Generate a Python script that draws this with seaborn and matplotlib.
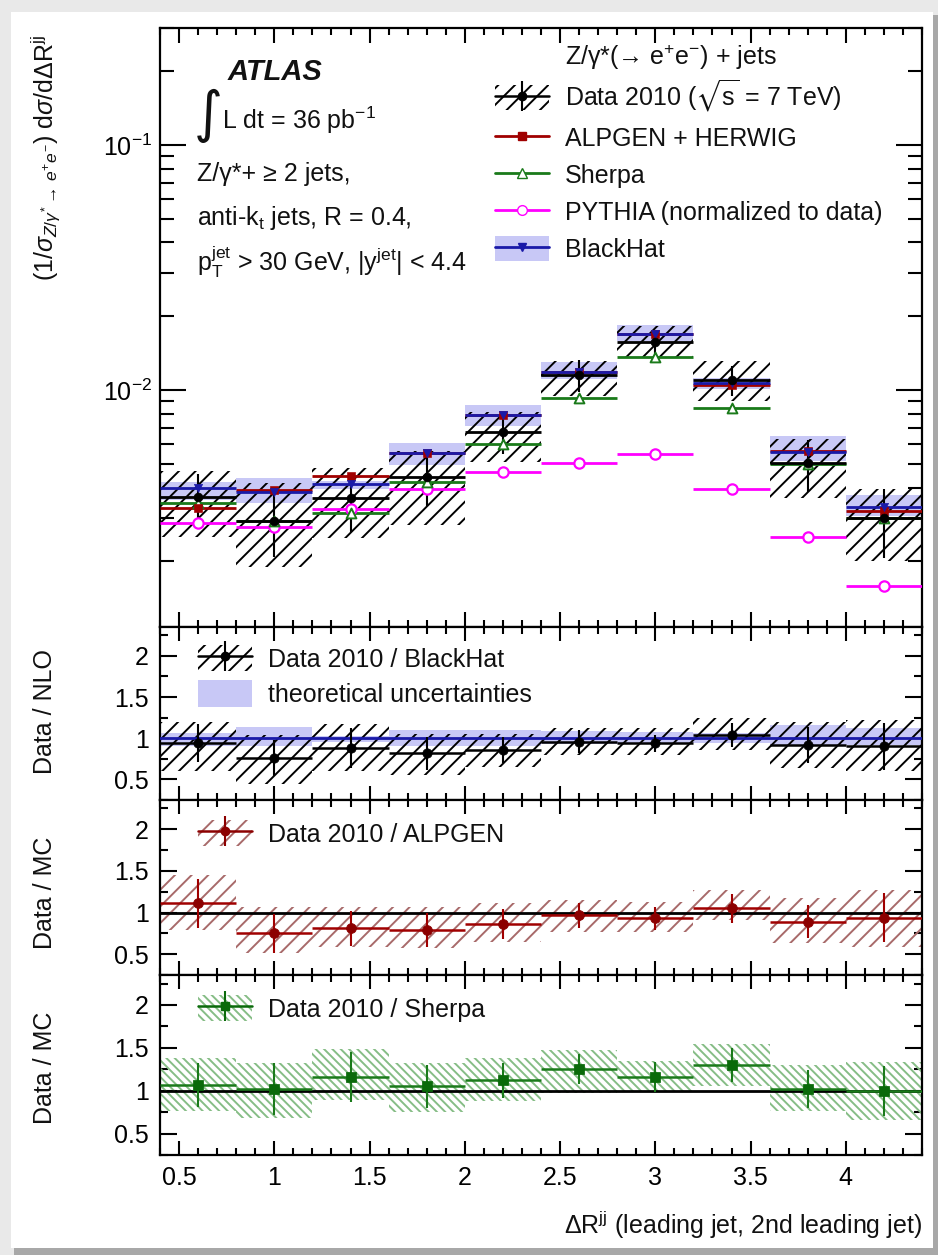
import numpy as np
import matplotlib
matplotlib.use("Agg")
import matplotlib.pyplot as plt
import seaborn as sns
from matplotlib.patches import Patch, Rectangle
from matplotlib.lines import Line2D
from matplotlib.ticker import (MultipleLocator, LogLocator, LogFormatterMathtext,
                               NullFormatter, FuncFormatter)

# ---------------------------------------------------------------- data
bin_lo = [0.4, 0.8, 1.2, 1.6, 2.0, 2.4, 2.8, 3.2, 3.6, 4.0]
bin_hi = [0.8, 1.2, 1.6, 2.0, 2.4, 2.8, 3.2, 3.6, 4.0, 4.4]
bin_centers = [0.6, 1.0, 1.4, 1.8, 2.2, 2.6, 3.0, 3.4, 3.8, 4.2]

# normalised cross section (1/sigma) dsigma/dDeltaR
data_xs = [3.66e-3, 2.93e-3, 3.62e-3, 4.41e-3, 6.76e-3, 1.15e-2, 1.57e-2, 1.10e-2, 5.03e-3, 3.00e-3]
data_stat_rel = [0.24, 0.29, 0.27, 0.24, 0.19, 0.15, 0.11, 0.14, 0.24, 0.31]
data_tot_up_rel = [0.28, 0.42, 0.33, 0.28, 0.20, 0.14, 0.16, 0.19, 0.26, 0.32]
data_tot_dn_rel = [0.31, 0.35, 0.31, 0.36, 0.25, 0.18, 0.14, 0.18, 0.28, 0.33]
alpgen_xs = [3.30e-3, 3.90e-3, 4.45e-3, 5.55e-3, 7.90e-3, 1.18e-2, 1.69e-2, 1.05e-2, 5.65e-3, 3.20e-3]
sherpa_xs = [3.45e-3, 2.93e-3, 3.15e-3, 4.20e-3, 6.03e-3, 9.25e-3, 1.37e-2, 8.45e-3, 5.00e-3, 3.00e-3]
pythia_xs = [2.87e-3, 2.77e-3, 3.27e-3, 3.95e-3, 4.62e-3, 5.04e-3, 5.48e-3, 3.95e-3, 2.52e-3, 1.58e-3]
blackhat_xs = [3.97e-3, 3.85e-3, 4.13e-3, 5.52e-3, 7.90e-3, 1.19e-2, 1.70e-2, 1.07e-2, 5.60e-3, 3.34e-3]
blackhat_up_rel = [0.06, 0.14, 0.03, 0.10, 0.10, 0.09, 0.08, 0.05, 0.16, 0.12]
blackhat_dn_rel = [0.10, 0.10, 0.04, 0.10, 0.10, 0.07, 0.07, 0.06, 0.08, 0.08]

# Data / BlackHat
ratio_nlo = [0.94, 0.76, 0.88, 0.82, 0.86, 0.96, 0.94, 1.04, 0.92, 0.90]
ratio_nlo_stat = [0.23, 0.22, 0.24, 0.20, 0.16, 0.14, 0.105, 0.15, 0.22, 0.28]
ratio_nlo_band_lo = [0.60, 0.45, 0.60, 0.55, 0.65, 0.80, 0.80, 0.86, 0.64, 0.60]
ratio_nlo_band_hi = [1.20, 1.04, 1.17, 1.05, 1.05, 1.13, 1.12, 1.24, 1.20, 1.22]
theory_lo = [0.90, 0.90, 0.96, 0.90, 0.90, 0.93, 0.93, 0.94, 0.92, 0.92]
theory_hi = [1.06, 1.14, 1.03, 1.10, 1.10, 1.09, 1.07, 1.06, 1.16, 1.12]

# Data / ALPGEN
ratio_alpgen = [1.11, 0.75, 0.81, 0.79, 0.86, 0.97, 0.93, 1.05, 0.89, 0.94]
ratio_alpgen_stat = [0.29, 0.23, 0.21, 0.21, 0.18, 0.15, 0.135, 0.17, 0.20, 0.29]
ratio_alpgen_band_lo = [0.79, 0.51, 0.59, 0.58, 0.65, 0.77, 0.77, 0.91, 0.64, 0.59]
ratio_alpgen_band_hi = [1.45, 1.07, 1.07, 1.07, 1.12, 1.15, 1.13, 1.27, 1.18, 1.27]

# Data / Sherpa
ratio_sherpa = [1.07, 1.02, 1.16, 1.05, 1.12, 1.25, 1.16, 1.30, 1.02, 1.00]
ratio_sherpa_stat = [0.255, 0.30, 0.29, 0.255, 0.20, 0.175, 0.17, 0.195, 0.22, 0.29]
ratio_sherpa_band_lo = [0.76, 0.68, 0.89, 0.75, 0.88, 0.97, 0.98, 1.05, 0.76, 0.66]
ratio_sherpa_band_hi = [1.38, 1.32, 1.49, 1.32, 1.38, 1.47, 1.35, 1.55, 1.30, 1.33]

# ---------------------------------------------------------------- style
C_DATA = "black"
C_ALP = "#a00000"
C_ALP_HATCH = "#a86a6a"
C_SHE = "#1a7a1a"
C_SHE_HATCH = "#86bd86"
C_PYT = "#ff00ff"
C_BH = "#1a1aa8"
C_BH_BAND = "#c8c8f6"

HATCH_DATA = "//"
HATCH_SHERPA = "\\\\\\\\"

sns.set_theme(style="ticks")
plt.rcParams.update({
    "font.family": ["Liberation Sans", "DejaVu Sans"],
    "mathtext.fontset": "custom",
    "mathtext.rm": "Liberation Sans",
    "mathtext.it": "Liberation Sans:italic",
    "mathtext.bf": "Liberation Sans:bold",
    "mathtext.fallback": "stixsans",
    "hatch.linewidth": 1.4,
    "axes.linewidth": 1.6,
    "axes.edgecolor": "black",
    "xtick.color": "black",
    "ytick.color": "black",
    "text.color": "#111111",
})

W, H = 938, 1255
FS = 18
fig = plt.figure(figsize=(W / 100, H / 100), dpi=100)
fig.patch.set_facecolor("#e9e9e9")


def fx(px):
    return px / W


def fy(py):
    return 1 - py / H


# page frame with a soft shadow on the right and bottom
fig.add_artist(Rectangle((fx(14), fy(1255)), fx(938 - 14), fy(15) - fy(1255),
                         transform=fig.transFigure, facecolor="#a8a8a8", edgecolor="none", zorder=-3))
fig.add_artist(Rectangle((fx(11), fy(1248)), fx(922), fy(12) - fy(1248),
                         transform=fig.transFigure, facecolor="white", edgecolor="none", zorder=-2))

L, R = 160, 922


def ax_at(top, bot):
    a = fig.add_axes([fx(L), fy(bot), fx(R - L), fy(top) - fy(bot)])
    a.set_facecolor("white")
    return a


ax0 = ax_at(28, 627)
ax1 = ax_at(627, 800)
ax2 = ax_at(800, 975)
ax3 = ax_at(975, 1155)

centers = np.array(bin_centers)
widths = np.array(bin_hi) - np.array(bin_lo)


def band(ax, lo, hi, **kw):
    lo = np.asarray(lo)
    hi = np.asarray(hi)
    ax.bar(centers, hi - lo, bottom=lo, width=widths, align="center", linewidth=0, **kw)


def hatch_band(ax, lo, hi, color, hatch, z=2):
    band(ax, lo, hi, fill=False, hatch=hatch, edgecolor=color, zorder=z)


def bin_lines(ax, y, color, lw=2.0, z=4):
    ax.hlines(y, bin_lo, bin_hi, colors=color, linewidth=lw, zorder=z)


# ---------------------------------------------------------------- main panel
d = np.array(data_xs)
bh = np.array(blackhat_xs)
band(ax0, bh * (1 - np.array(blackhat_dn_rel)), bh * (1 + np.array(blackhat_up_rel)),
     color=C_BH_BAND, zorder=1)
hatch_band(ax0, d * (1 - np.array(data_tot_dn_rel)), d * (1 + np.array(data_tot_up_rel)),
           C_DATA, HATCH_DATA)

bin_lines(ax0, pythia_xs, C_PYT)
bin_lines(ax0, sherpa_xs, C_SHE)
bin_lines(ax0, data_xs, C_DATA)
bin_lines(ax0, alpgen_xs, C_ALP)
bin_lines(ax0, blackhat_xs, C_BH)
ax0.vlines(centers, d * (1 - np.array(data_stat_rel)), d * (1 + np.array(data_stat_rel)),
           colors=C_DATA, linewidth=1.5, zorder=5)

sns.scatterplot(x=bin_centers, y=pythia_xs, ax=ax0, marker="o", s=55, color=C_PYT,
                facecolor="white", edgecolor=C_PYT, linewidth=1.6, zorder=6, legend=False)
sns.scatterplot(x=bin_centers, y=sherpa_xs, ax=ax0, marker="^", s=50, color=C_SHE,
                facecolor="white", edgecolor=C_SHE, linewidth=1.4, zorder=6, legend=False)
sns.scatterplot(x=bin_centers, y=alpgen_xs, ax=ax0, marker="s", s=30, color=C_ALP,
                edgecolor=C_ALP, zorder=6, legend=False)
sns.scatterplot(x=bin_centers, y=blackhat_xs, ax=ax0, marker="v", s=35, color=C_BH,
                edgecolor=C_BH, zorder=7, legend=False)
sns.scatterplot(x=bin_centers, y=data_xs, ax=ax0, marker="o", s=40, color=C_DATA,
                edgecolor=C_DATA, zorder=8, legend=False)

ax0.set_yscale("log")
ax0.set_ylim(1.08e-3, 0.3)
ax0.yaxis.set_major_locator(LogLocator(base=10))
ax0.yaxis.set_minor_locator(LogLocator(base=10, subs=np.arange(2, 10)))
ax0.yaxis.set_major_formatter(LogFormatterMathtext())
ax0.yaxis.set_minor_formatter(NullFormatter())

# ---------------------------------------------------------------- Data / NLO
band(ax1, theory_lo, theory_hi, color=C_BH_BAND, zorder=1)
hatch_band(ax1, ratio_nlo_band_lo, ratio_nlo_band_hi, C_DATA, HATCH_DATA)
ax1.axhline(1.0, color=C_BH, linewidth=2.0, zorder=3)
rn = np.array(ratio_nlo)
bin_lines(ax1, ratio_nlo, C_DATA, lw=1.8)
ax1.vlines(centers, rn - np.array(ratio_nlo_stat), rn + np.array(ratio_nlo_stat),
           colors=C_DATA, linewidth=1.5, zorder=5)
sns.scatterplot(x=bin_centers, y=ratio_nlo, ax=ax1, marker="o", s=45, color=C_DATA,
                edgecolor=C_DATA, zorder=8, legend=False)

# ---------------------------------------------------------------- Data / ALPGEN
hatch_band(ax2, ratio_alpgen_band_lo, ratio_alpgen_band_hi, C_ALP_HATCH, HATCH_DATA)
ax2.axhline(1.0, color="black", linewidth=2.0, zorder=3)
ra = np.array(ratio_alpgen)
bin_lines(ax2, ratio_alpgen, C_ALP, lw=1.8)
ax2.vlines(centers, ra - np.array(ratio_alpgen_stat), ra + np.array(ratio_alpgen_stat),
           colors=C_ALP, linewidth=1.5, zorder=5)
sns.scatterplot(x=bin_centers, y=ratio_alpgen, ax=ax2, marker="o", s=50, color="#8c0000",
                edgecolor="#8c0000", zorder=8, legend=False)

# ---------------------------------------------------------------- Data / Sherpa
hatch_band(ax3, ratio_sherpa_band_lo, ratio_sherpa_band_hi, C_SHE_HATCH, HATCH_SHERPA)
ax3.axhline(1.0, color="black", linewidth=2.0, zorder=3)
rs = np.array(ratio_sherpa)
bin_lines(ax3, ratio_sherpa, C_SHE, lw=1.8)
ax3.vlines(centers, rs - np.array(ratio_sherpa_stat), rs + np.array(ratio_sherpa_stat),
           colors=C_SHE, linewidth=1.5, zorder=5)
sns.scatterplot(x=bin_centers, y=ratio_sherpa, ax=ax3, marker="s", s=45, color="#0a6a0a",
                edgecolor="#0a6a0a", zorder=8, legend=False)

# ---------------------------------------------------------------- axes cosmetics
fmt = FuncFormatter(lambda v, p: f"{v:g}")
for a in (ax0, ax1, ax2, ax3):
    a.set_xlim(0.4, 4.4)
    a.xaxis.set_major_locator(MultipleLocator(0.5))
    a.xaxis.set_minor_locator(MultipleLocator(0.1))
    a.tick_params(axis="both", which="both", direction="in", top=True, right=True,
                  labelsize=FS, width=1.5, color="black")
    a.set_xlabel("")
    a.set_ylabel("")
    for s in a.spines.values():
        s.set_linewidth(1.6)
        s.set_color("black")

ax0.tick_params(axis="x", which="major", length=11)
ax0.tick_params(axis="x", which="minor", length=5)
ax0.tick_params(axis="y", which="major", length=19, pad=6)
ax0.tick_params(axis="y", which="minor", length=10)
ax0.tick_params(axis="x", labelbottom=False)

for a in (ax1, ax2, ax3):
    a.set_ylim(0.25, 2.35)
    a.yaxis.set_major_locator(MultipleLocator(0.5))
    a.yaxis.set_minor_locator(MultipleLocator(0.25))
    a.yaxis.set_major_formatter(fmt)
    a.tick_params(axis="y", which="major", length=12, pad=8)
    a.tick_params(axis="y", which="minor", length=6)
    a.tick_params(axis="x", which="major", length=10)
    a.tick_params(axis="x", which="minor", length=5)
for a in (ax1, ax2):
    a.tick_params(axis="x", labelbottom=False)
ax3.xaxis.set_major_formatter(fmt)
ax3.tick_params(axis="x", which="major", pad=8)

# ---------------------------------------------------------------- labels
fig.text(fx(45), fy(158),
         r"(1/$\sigma_{Z/\gamma^{*}\rightarrow\,e^{+}e^{-}}$) d$\sigma$/d$\Delta$R$^{\mathrm{jj}}$",
         rotation=90, ha="center", va="center", fontsize=FS)
fig.text(fx(45), fy(712), "Data / NLO", rotation=90, ha="center", va="center", fontsize=FS)
fig.text(fx(45), fy(893), "Data / MC", rotation=90, ha="center", va="center", fontsize=FS)
fig.text(fx(45), fy(1068), "Data / MC", rotation=90, ha="center", va="center", fontsize=FS)
fig.text(fx(922), fy(1225), r"$\Delta$R$^{\mathrm{jj}}$ (leading jet, 2nd leading jet)",
         ha="right", va="center", fontsize=FS)

fig.text(fx(228), fy(72), "ATLAS", fontsize=21, fontweight="bold", fontstyle="italic",
         ha="left", va="center")
fig.text(fx(194), fy(116), "\u222B", fontsize=40, ha="left", va="center",
         family=["DejaVu Sans"])
fig.text(fx(222), fy(120), r"L dt = 36 pb$^{-1}$", fontsize=FS, ha="left", va="center")
fig.text(fx(197), fy(174), "Z/\u03b3*+ \u2265 2 jets,", fontsize=FS, ha="left", va="center")
fig.text(fx(197), fy(218), r"anti-k$_{\mathrm{t}}$ jets, R = 0.4,", fontsize=FS, ha="left", va="center")
fig.text(fx(197), fy(262), r"p$_{\mathrm{T}}^{\mathrm{jet}}$ > 30 GeV, |y$^{\mathrm{jet}}$| < 4.4",
         fontsize=FS, ha="left", va="center")
fig.text(fx(565), fy(57), "Z/\u03b3*(\u2192 e$^{+}$e$^{-}$) + jets", fontsize=FS,
         ha="left", va="center")

# ---------------------------------------------------------------- legends
def data_handle(color, hatch_color, hatch, marker="o", ms=6):
    return (Patch(facecolor="none", edgecolor=hatch_color, hatch=hatch, linewidth=0),
            Line2D([], [], color=color, lw=1.8, marker=marker, ms=ms),
            Line2D([], [], ls="none", marker="|", ms=22, mew=1.5, color=color))


h_data = data_handle(C_DATA, C_DATA, HATCH_DATA)
h_alp = Line2D([], [], color=C_ALP, lw=2, marker="s", ms=6)
h_she = Line2D([], [], color=C_SHE, lw=2, marker="^", ms=7, mfc="white", mec=C_SHE)
h_pyt = Line2D([], [], color=C_PYT, lw=2, marker="o", ms=7, mfc="white", mec=C_PYT)
h_bh = (Patch(facecolor=C_BH_BAND, edgecolor="none"),
        Line2D([], [], color=C_BH, lw=2, marker="v", ms=6))

leg_kw = dict(frameon=False, fontsize=FS, handlelength=2.15, handletextpad=0.65,
              borderpad=0, borderaxespad=0, bbox_transform=fig.transFigure, loc="upper left")
ax0.legend([h_data, h_alp, h_she, h_pyt, h_bh],
           [r"Data 2010 ($\sqrt{\mathrm{s}}$ = 7 TeV)", "ALPGEN + HERWIG", "Sherpa",
            "PYTHIA (normalized to data)", "BlackHat"],
           bbox_to_anchor=(fx(495), fy(78)), labelspacing=0.44, handleheight=1.15, **leg_kw)

ax1.legend([h_data, Patch(facecolor=C_BH_BAND, edgecolor="none")],
           ["Data 2010 / BlackHat", "theoretical uncertainties"],
           bbox_to_anchor=(fx(198), fy(645)), labelspacing=0.35, handleheight=1.25, **leg_kw)
ax2.legend([data_handle("#8c0000", C_ALP_HATCH, HATCH_DATA)], ["Data 2010 / ALPGEN"],
           bbox_to_anchor=(fx(198), fy(820)), handleheight=1.25, **leg_kw)
ax3.legend([data_handle("#0a6a0a", C_SHE_HATCH, HATCH_SHERPA, marker="s")], ["Data 2010 / Sherpa"],
           bbox_to_anchor=(fx(198), fy(995)), handleheight=1.25, **leg_kw)

fig.savefig("out.png", dpi=100, facecolor=fig.get_facecolor())
